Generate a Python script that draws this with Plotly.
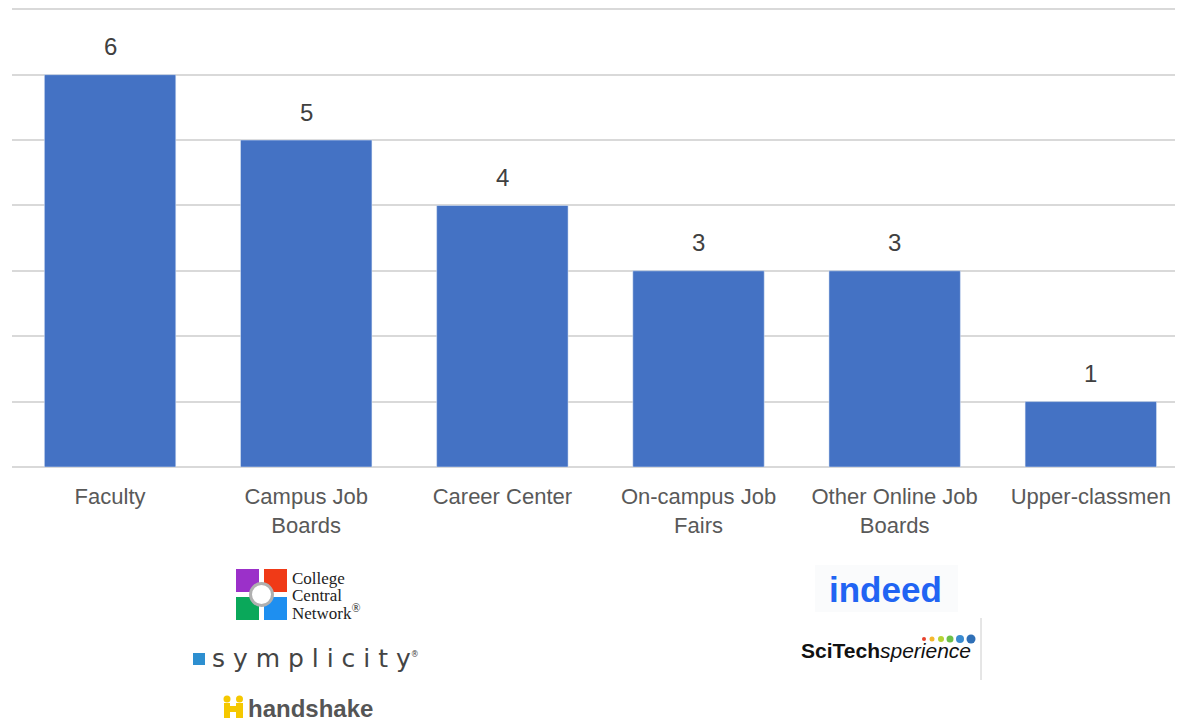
import plotly.graph_objects as go

categories = ["Faculty", "Campus Job<br>Boards", "Career Center", "On-campus Job<br>Fairs",
              "Other Online Job<br>Boards", "Upper-classmen"]
values = [6, 5, 4, 3, 3, 1]

OFF = 8                 # page body margin
W, H = 1175, 713        # figure size
L = 4                   # figure left margin (window x = 12)
PLOT_BOTTOM = 459       # figure y of zero line (window y = 467)
PW = W - L
PH = PLOT_BOTTOM

def px(x):  # window px -> paper
    return (x - OFF - L) / PW

def py(y):
    return (PLOT_BOTTOM - (y - OFF)) / PH

fig = go.Figure()
fig.add_trace(go.Bar(
    x=categories, y=values, marker_color="#4472C4",
))

shapes = []
annots = []

for c, v in zip(categories, values):
    annots.append(dict(x=c, y=v, xref="x", yref="y", text=str(v), showarrow=False,
                       yanchor="middle", yshift=28,
                       font=dict(size=24, color="#404040", family="Liberation Sans, Arial")))

def rect(x0, y0, x1, y1, color, line=None):
    shapes.append(dict(type="rect", xref="paper", yref="paper",
                       x0=px(x0), x1=px(x1), y0=py(y1), y1=py(y0),
                       fillcolor=color, line=dict(width=0) if line is None else line, layer="above"))

def circle(cx, cy, r, color, line=None):
    shapes.append(dict(type="circle", xref="paper", yref="paper",
                       x0=px(cx - r), x1=px(cx + r), y0=py(cy + r), y1=py(cy - r),
                       fillcolor=color, line=dict(width=0) if line is None else line, layer="above"))

def text(x, y, s, size, color, family="Liberation Sans, Arial", xanchor="left"):
    annots.append(dict(xref="paper", yref="paper", x=px(x), y=py(y), text=s,
                       showarrow=False, xanchor=xanchor, yanchor="middle",
                       font=dict(size=size, color=color, family=family)))

# College Central Network logo
rect(236, 569, 259, 592, "#9b30c9")
rect(264, 569, 287, 592, "#f03a17")
rect(236, 597, 259, 620, "#0aa85a")
rect(264, 597, 287, 620, "#1e8ff0")
circle(261.5, 594.5, 11, "#ffffff", line=dict(color="#b0b0b0", width=3))
serif = "Liberation Serif, Times New Roman"
text(290, 578, "College", 17, "#222222", family=serif)
text(290, 595, "Central", 17, "#222222", family=serif)
text(290, 612, "Network<sup>®</sup>", 17, "#222222", family=serif)

# symplicity
rect(193, 653, 205, 665, "#2d8fd0")
text(210, 658, "s y m p l i c i t y<sup><span style='font-size:8px'>®</span></sup>", 25, "#444444",
     family="DejaVu Sans, Liberation Sans")

# handshake
rect(224, 703, 230, 718, "#f5c800")
rect(236, 703, 243, 718, "#f5c800")
rect(224, 706, 243, 712, "#f5c800")
circle(227, 699, 3.5, "#f5c800")
circle(239.5, 699, 3.5, "#f5c800")
text(246, 708, "<b>handshake</b>", 24, "#555555", family="Liberation Sans, Arial")

# indeed
rect(815, 565, 958, 612, "#fafbfc")
text(885, 589, "<b>indeed</b>", 35, "#2164f3", family="Liberation Sans, Arial", xanchor="center")

# SciTechsperience
text(799, 650, "<b>SciTech</b><i>sperience</i>", 21, "#111111", family="Liberation Sans, Arial")
dot_colors = ["#e8412c", "#f5b82e", "#b5d334", "#6cc04a", "#3a8bd0", "#2f6fb6"]
dot_x = [924, 932, 941, 950, 960, 971]
dot_r = [2, 2.5, 3, 3.5, 4, 4.5]
for c, xx, r in zip(dot_colors, dot_x, dot_r):
    circle(xx, 639, r, c)
shapes.append(dict(type="line", xref="paper", yref="paper", x0=px(981), x1=px(981),
                   y0=py(680), y1=py(618), line=dict(color="#cccccc", width=1)))

fig.update_layout(
    width=W, height=H,
    margin=dict(l=L, r=0, t=0, b=H - PLOT_BOTTOM, pad=0),
    plot_bgcolor="white", paper_bgcolor="white",
    bargap=0.33, showlegend=False,
    shapes=shapes, annotations=annots,
    xaxis=dict(range=[-0.5, 5.47], tickfont=dict(size=22, color="#595959", family="Liberation Sans, Arial"),
               showline=False, ticks="", showgrid=False, ticklabelstandoff=14),
    yaxis=dict(range=[0, 7.02], tickvals=[1, 2, 3, 4, 5, 6, 7], showticklabels=False, showgrid=True,
               gridcolor="#d9d9d9", gridwidth=1.5, zeroline=True, zerolinecolor="#d9d9d9", zerolinewidth=1.5),
)
fig.write_html("out.html")
